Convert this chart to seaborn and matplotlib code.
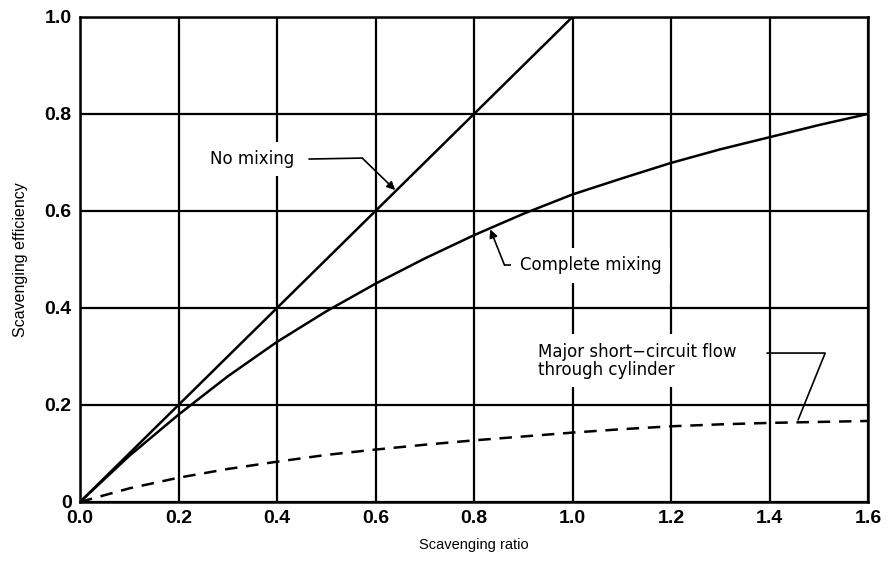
import pandas as pd
import matplotlib
matplotlib.use("Agg")
import matplotlib.pyplot as plt
import seaborn as sns

# valores
ratio = [0.0, 0.1, 0.2, 0.3, 0.4, 0.5, 0.6, 0.7, 0.8, 0.9, 1.0, 1.1, 1.2, 1.3, 1.4, 1.5, 1.6]
no_mixing_x = [0.0, 1.0]
no_mixing_y = [0.0, 1.0]
complete_mixing = [0.0, 0.095, 0.18, 0.259, 0.33, 0.393, 0.45, 0.502, 0.55, 0.594, 0.634,
                   0.667, 0.699, 0.727, 0.752, 0.777, 0.80]
short_circuit = [0.0, 0.028, 0.05, 0.068, 0.083, 0.097, 0.108, 0.118, 0.127, 0.135, 0.143,
                 0.150, 0.156, 0.160, 0.163, 0.165, 0.167]

x_ticks = [0.0, 0.2, 0.4, 0.6, 0.8, 1.0, 1.2, 1.4, 1.6]
x_labels = ["0.0", "0.2", "0.4", "0.6", "0.8", "1.0", "1.2", "1.4", "1.6"]
y_ticks = [0.0, 0.2, 0.4, 0.6, 0.8, 1.0]
y_labels = ["0", "0.2", "0.4", "0.6", "0.8", "1.0"]

df = pd.DataFrame({"ratio": ratio, "complete": complete_mixing, "short": short_circuit})
df_nm = pd.DataFrame({"ratio": no_mixing_x, "eff": no_mixing_y})

sns.set_theme(style="white")
plt.rcParams["font.family"] = ["Liberation Sans", "DejaVu Sans"]
plt.rcParams["text.color"] = "black"
plt.rcParams["axes.labelcolor"] = "black"
plt.rcParams["xtick.color"] = "black"
plt.rcParams["ytick.color"] = "black"

fig = plt.figure(figsize=(8.91, 5.64), dpi=100)
ax = fig.add_axes([0.0898, 0.110, 0.8844, 0.860])

sns.lineplot(data=df_nm, x="ratio", y="eff", color="black", lw=1.8, ax=ax)
sns.lineplot(data=df, x="ratio", y="complete", color="black", lw=1.8, ax=ax)
sns.lineplot(data=df, x="ratio", y="short", color="black", lw=1.8, ax=ax,
             dashes=False, linestyle=(0, (5, 3.5)))

ax.set_xlim(0, 1.6)
ax.set_ylim(0, 1.0)
ax.set_xticks(x_ticks)
ax.set_xticklabels(x_labels)
ax.set_yticks(y_ticks)
ax.set_yticklabels(y_labels)
ax.tick_params(axis="both", length=0, labelsize=14, pad=6)
for lab in ax.get_xticklabels() + ax.get_yticklabels():
    lab.set_fontweight("bold")
ax.grid(True, color="black", lw=1.6)
ax.set_axisbelow(True)
for s in ax.spines.values():
    s.set_color("black")
    s.set_linewidth(1.8)

ax.set_xlabel("Scavenging ratio", fontsize=10.5, labelpad=8)
ax.set_ylabel("Scavenging efficiency", fontsize=11.5, labelpad=12)

anot = ["DejaVu Sans"]
caja = dict(facecolor="white", edgecolor="none", pad=6)
flecha = dict(arrowstyle="-|>", color="black", lw=1.2, mutation_scale=12, shrinkA=0, shrinkB=0)

# No mixing
ax.text(0.264, 0.707, "No mixing", fontsize=12, family=anot, va="center", ha="left", bbox=caja)
ax.plot([0.465, 0.573], [0.707, 0.709], color="black", lw=1.2)
ax.annotate("", xy=(0.640, 0.643), xytext=(0.573, 0.709), arrowprops=flecha)

# Complete mixing
ax.text(0.893, 0.488, "Complete mixing", fontsize=12, family=anot, va="center", ha="left", bbox=caja)
ax.plot([0.885, 0.862], [0.488, 0.488], color="black", lw=1.2)
ax.annotate("", xy=(0.833, 0.562), xytext=(0.862, 0.488), arrowprops=flecha)

# Major short-circuit flow
ax.text(0.93, 0.291, "Major short\u2212circuit flow\nthrough cylinder", fontsize=12, family=anot,
        va="center", ha="left", linespacing=1.0, bbox=caja)
ax.plot([1.395, 1.513, 1.458], [0.307, 0.307, 0.169], color="black", lw=1.2)

plt.savefig("out.png", dpi=100)
